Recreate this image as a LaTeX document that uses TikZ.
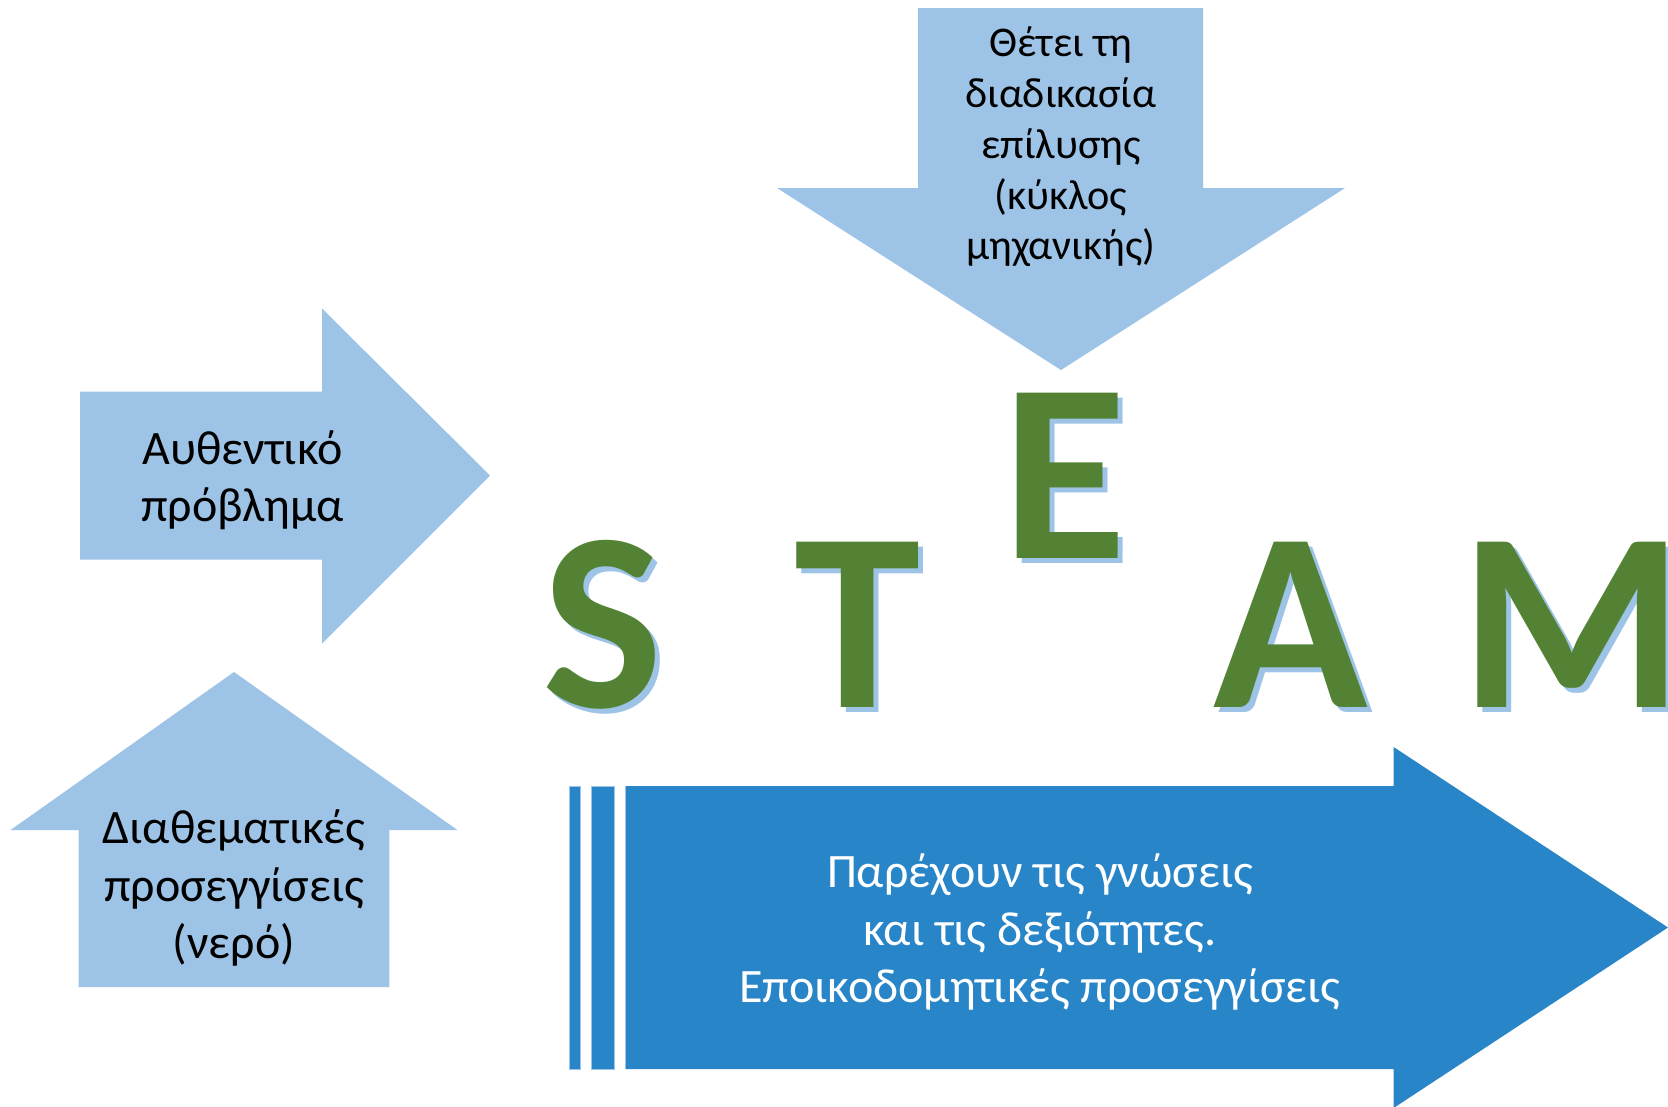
\documentclass[tikz,border=0pt]{standalone}
\usepackage{fontspec}
\setmainfont{Carlito}
\usepackage{pdfrender}
\definecolor{paleblue}{RGB}{157,195,230}
\definecolor{deepblue}{RGB}{40,134,200}
\definecolor{leafgreen}{RGB}{84,130,53}
\tikzset{
  pale/.style={fill=paleblue, draw=none},
  deep/.style={fill=deepblue, draw=paleblue, line width=1pt},
  lbl/.style={align=center, inner sep=0pt, text=black,
    font=\fontsize{48}{57.5}\selectfont},
  lbltight/.style={lbl, font=\fontsize{42.3}{50.8}\selectfont},
  lblwhite/.style={lbl, text=white},
  letter/.style={inner sep=0pt, anchor=base,
    font=\fontsize{255}{255}\selectfont\bfseries},
  lettershadow/.style={letter, text=paleblue},
  letterface/.style={letter, text=leafgreen},
}
% a big letter with a white rim and a soft blue drop shadow
\newcommand{\steamletter}[4]{%
  \node[lettershadow] (#1sh) at (#2+5,#3+5) {#4};
  \node[letterface] (#1) at (#2,#3)
    {\textpdfrender{TextRenderingMode=FillStroke, LineWidth=3.2,
      StrokeColor=white, LineJoin=1}{#4}};
}
\begin{document}
\begin{tikzpicture}[x=1pt, y=-1pt]
\useasboundingbox (0,0) rectangle (1668,1106);

% downward arrow at the top
\fill[pale] (918,8) -- (1203,8) -- (1203,188) -- (1345,188) -- (1061,370)
  -- (777,188) -- (918,188) -- cycle;
\node[lbltight] (process) at (1061,147)
  {Θέτει τη\\διαδικασία\\επίλυσης\\(κύκλος\\μηχανικής)};

% arrow pointing right
\fill[pale] (80,391.5) -- (322,391.5) -- (322,308.5) -- (490,475.5)
  -- (322,643.6) -- (322,559.6) -- (80,559.6) -- cycle;
\node[lbl] (problem) at (242.5,480) {Αυθεντικό\\πρόβλημα};

% arrow pointing up
\fill[pale] (78.7,987) -- (78.7,830) -- (10.6,830) -- (234,672)
  -- (457.4,830) -- (389.4,830) -- (389.4,987) -- cycle;
\node[lbl] (cross) at (234,888) {Διαθεματικές\\προσεγγίσεις\\(νερό)};

% striped wide arrow
\filldraw[deep] (569,786) rectangle (580,1069);
\filldraw[deep] (591.5,786) rectangle (614.5,1069);
\fill[deepblue] (625.5,786) -- (1393.6,786) -- (1393.6,747) -- (1668,927.5)
  -- (1393.6,1108) -- (1393.6,1069) -- (625.5,1069) -- cycle;
\draw[paleblue, line width=1pt] (625.5,786) -- (625.5,1069);
\node[lblwhite] (skills) at (1040,932)
  {Παρέχουν τις γνώσεις\\και τις δεξιότητες.\\Εποικοδομητικές προσεγγίσεις};

% STEAM letters
\steamletter{S}{603}{707}{S}
\steamletter{T}{858}{707}{T}
\steamletter{E}{1065}{558}{E}
\steamletter{A}{1291}{707}{A}
\steamletter{M}{1572}{707}{M}
\end{tikzpicture}
\end{document}
